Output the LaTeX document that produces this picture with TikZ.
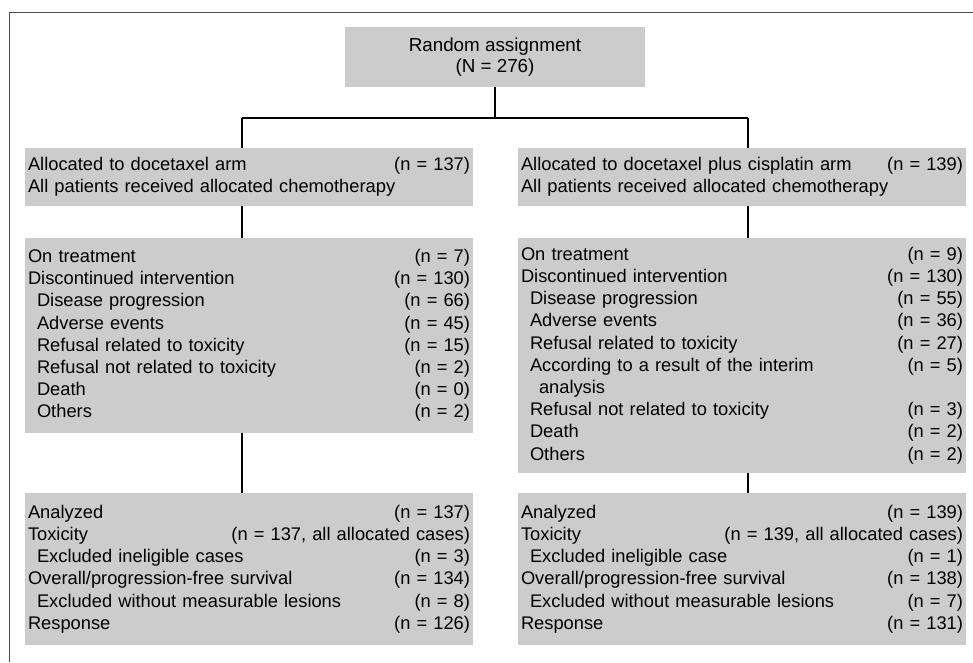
\documentclass[tikz,border=0pt]{standalone}
\usepackage{fontspec}
\setmainfont{Liberation Sans}
\definecolor{boxgray}{gray}{0.80}
\definecolor{framegray}{gray}{0.30}
\newcommand\rw[2]{\noindent#1\hspace{0pt plus 1filll}#2\par}
\newcommand\ind{\hspace*{9pt}}
\tikzset{
  box/.style={draw=none, fill=boxgray, anchor=north west, inner xsep=3pt, inner ysep=0pt,
    outer sep=0pt, minimum width=448pt, text width=442pt,
    font=\fontsize{18.3}{22.2}\selectfont},
  conn/.style={line width=1.6pt, black},
  frameline/.style={line width=0.9pt, framegray}
}
\begin{document}
\begin{tikzpicture}[x=1pt, y=-1pt]
\useasboundingbox (0,0) rectangle (973,662);
% frame
\coordinate (fc) at (9,12);
\coordinate (fr) at (973,12);
\coordinate (fb) at (9,662);
\draw[frameline] (fb) -- (fc) -- (fr);
% top box
\node[fill=boxgray, anchor=north west, minimum width=300pt, minimum height=60pt, inner sep=0pt,
  outer sep=0pt, align=center, font=\fontsize{18.8}{21.5}\selectfont] (top) at (345,27)
  {Random assignment\\(N = 276)};
% junctions
\coordinate (jm) at (495,118);
\coordinate (jl) at (242,118);
\coordinate (jr) at (748,118);
% row 1
\node[box, minimum height=58pt] (L1) at (25,148) {%
\rw{Allocated to docetaxel arm}{(n = 137)}%
\rw{All patients received allocated chemotherapy}{}};
\node[box, minimum height=58pt] (R1) at (518,148) {%
\rw{Allocated to docetaxel plus cisplatin arm}{(n = 139)}%
\rw{All patients received allocated chemotherapy}{}};
% row 2
\node[box, minimum height=195pt] (L2) at (25,238) {%
\rw{On treatment}{(n = 7)}%
\rw{Discontinued intervention}{(n = 130)}%
\rw{\ind Disease progression}{(n = 66)}%
\rw{\ind Adverse events}{(n = 45)}%
\rw{\ind Refusal related to toxicity}{(n = 15)}%
\rw{\ind Refusal not related to toxicity}{(n = 2)}%
\rw{\ind Death}{(n = 0)}%
\rw{\ind Others}{(n = 2)}};
\node[box, minimum height=235pt] (R2) at (518,238) {%
\rw{On treatment}{(n = 9)}%
\rw{Discontinued intervention}{(n = 130)}%
\rw{\ind Disease progression}{(n = 55)}%
\rw{\ind Adverse events}{(n = 36)}%
\rw{\ind Refusal related to toxicity}{(n = 27)}%
\rw{\ind According to a result of the interim}{(n = 5)}%
\rw{\ind\ind analysis}{}%
\rw{\ind Refusal not related to toxicity}{(n = 3)}%
\rw{\ind Death}{(n = 2)}%
\rw{\ind Others}{(n = 2)}};
% row 3
\node[box, minimum height=152pt] (L3) at (25,493) {%
\rw{Analyzed}{(n = 137)}%
\rw{Toxicity}{(n = 137, all allocated cases)}%
\rw{\ind Excluded ineligible cases}{(n = 3)}%
\rw{Overall/progression-free survival}{(n = 134)}%
\rw{\ind Excluded without measurable lesions}{(n = 8)}%
\rw{Response}{(n = 126)}};
\node[box, minimum height=152pt] (R3) at (518,493) {%
\rw{Analyzed}{(n = 139)}%
\rw{Toxicity}{(n = 139, all allocated cases)}%
\rw{\ind Excluded ineligible case}{(n = 1)}%
\rw{Overall/progression-free survival}{(n = 138)}%
\rw{\ind Excluded without measurable lesions}{(n = 7)}%
\rw{Response}{(n = 131)}};
% connectors
\draw[conn] (top.south) -- (jm);
\draw[conn] (jl) -- (jr);
\draw[conn] (jl) -- (jl |- L1.north);
\draw[conn] (jr) -- (jr |- R1.north);
\draw[conn] (jl |- L1.south) -- (jl |- L2.north);
\draw[conn] (jr |- R1.south) -- (jr |- R2.north);
\draw[conn] (jl |- L2.south) -- (jl |- L3.north);
\draw[conn] (jr |- R2.south) -- (jr |- R3.north);
\end{tikzpicture}
\end{document}
